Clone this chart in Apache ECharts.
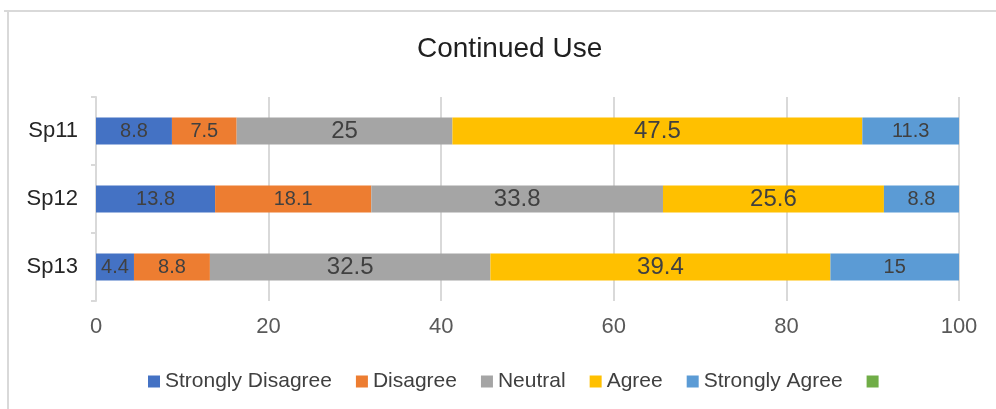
<!DOCTYPE html>
<html>
<head>
<meta charset="utf-8">
<script src="https://cdn.jsdelivr.net/npm/echarts@6/dist/echarts.min.js"></script>
<style>
  html, body { margin: 0; padding: 0; background: #fff; }
  #chart { width: 996px; height: 409px; }
</style>
</head>
<body>
<div id="chart"></div>
<script>
// data
const categories = ["Sp11", "Sp12", "Sp13"];
const stronglyDisagree = [8.8, 13.8, 4.4];
const disagree = [7.5, 18.1, 8.8];
const neutral = [25, 33.8, 32.5];
const agree = [47.5, 25.6, 39.4];
const stronglyAgree = [11.3, 8.8, 15];
const unnamed = [null, null, null];
const xTicks = [0, 20, 40, 60, 80, 100];

const chart = echarts.init(document.getElementById("chart"));
const font = "Liberation Sans, Arial, sans-serif";

function bar(name, data, color, size) {
  return {
    name: name,
    type: "bar",
    stack: "total",
    data: data,
    barWidth: 27,
    itemStyle: { color: color },
    label: {
      show: true,
      position: "inside",
      color: "#404040",
      fontFamily: font,
      fontSize: size
    }
  };
}

const option = {
  animation: false,
  title: {
    text: "Continued Use",
    left: 412,
    top: 30,
    textStyle: { fontFamily: font, fontSize: 28, fontWeight: "normal", color: "#1f1f1f" }
  },
  legend: {
    top: 366,
    left: 143,
    itemWidth: 12,
    itemHeight: 12,
    itemGap: 24,
    icon: "rect",
    textStyle: { fontFamily: font, fontSize: 21, color: "#404040" }
  },
  grid: { left: 96, right: 37, top: 97, bottom: 108 },
  xAxis: {
    type: "value",
    min: xTicks[0],
    max: xTicks[xTicks.length - 1],
    interval: 20,
    axisLine: { show: false },
    axisTick: { show: false },
    splitLine: { lineStyle: { color: "#d9d9d9", width: 2 } },
    axisLabel: { fontFamily: font, fontSize: 22, color: "#595959", margin: 15 }
  },
  yAxis: {
    type: "category",
    data: categories,
    inverse: true,
    axisLine: { lineStyle: { color: "#d9d9d9", width: 2 } },
    axisTick: { show: true, length: 5, lineStyle: { color: "#d9d9d9", width: 2 } },
    axisLabel: { fontFamily: font, fontSize: 22, color: "#262626", margin: 18 }
  },
  series: [
    bar("Strongly Disagree", stronglyDisagree, "#4472C4", 20),
    bar("Disagree", disagree, "#ED7D31", 20),
    bar("Neutral", neutral, "#A5A5A5", 24),
    bar("Agree", agree, "#FFC000", 24),
    bar("Strongly Agree", stronglyAgree, "#5B9BD5", 20),
    bar(" ", unnamed, "#70AD47", 20)
  ],
  graphic: [
    { type: "line", shape: { x1: 4, y1: 11, x2: 996, y2: 11 }, style: { stroke: "#d9d9d9", lineWidth: 2 } },
    { type: "line", shape: { x1: 8, y1: 11, x2: 8, y2: 409 }, style: { stroke: "#d9d9d9", lineWidth: 2 } }
  ]
};

chart.setOption(option);
</script>
</body>
</html>
